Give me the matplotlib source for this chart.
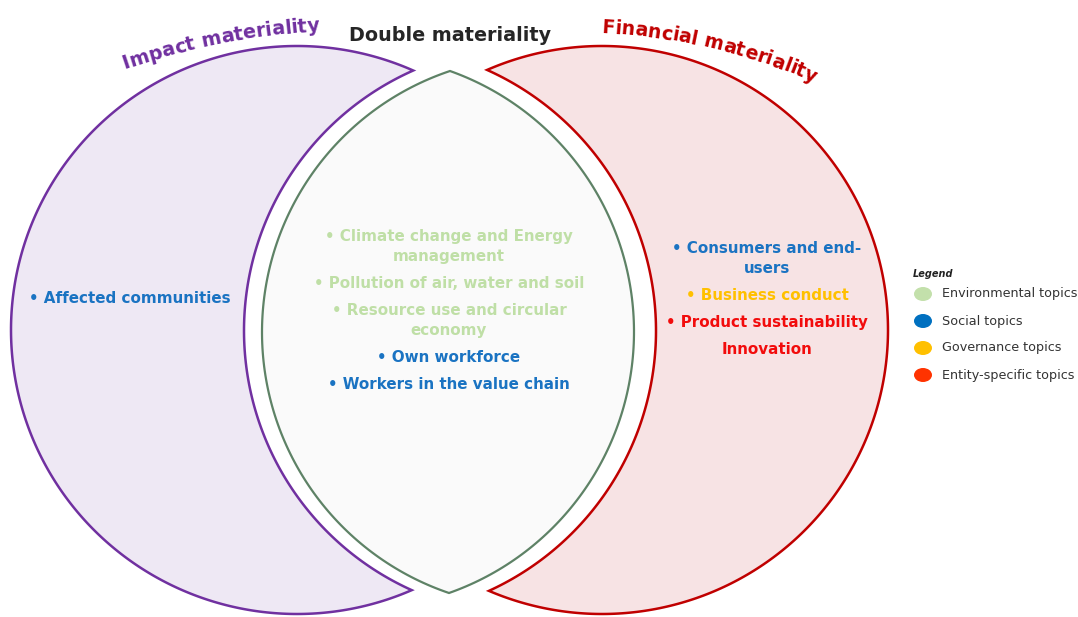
import numpy as np
import matplotlib
matplotlib.use("Agg")
import matplotlib.pyplot as plt
from matplotlib.patches import Polygon, Ellipse
from matplotlib.font_manager import FontProperties, findfont, get_font

# titles of the three areas
title_impact = "Impact materiality"
title_double = "Double materiality"
title_financial = "Financial materiality"

# topics listed in each area and their kind
impact_topics = ["Affected communities"]
impact_kinds = ["social"]
double_topics = ["Climate change and Energy\nmanagement", "Pollution of air, water and soil",
                 "Resource use and circular\neconomy", "Own workforce", "Workers in the value chain"]
double_kinds = ["env", "env", "env", "social", "social"]
financial_topics = ["Consumers and end-\nusers", "Business conduct", "Product sustainability", "Innovation"]
financial_kinds = ["social", "governance", "entity", "entity"]
financial_bullets = [True, True, True, False]

legend_title = "Legend"
legend_labels = ["Environmental topics", "Social topics", "Governance topics", "Entity-specific topics"]
legend_kinds = ["env", "social", "governance", "entity"]

text_colors = {"env": "#bfdfa6", "social": "#1a73c2", "governance": "#ffc000", "entity": "#f20c0c"}
dot_colors = {"env": "#c3e0ab", "social": "#0070c0", "governance": "#ffc000", "entity": "#ff3300"}

W, H = 1078, 617
fig = plt.figure(figsize=(W / 100, H / 100), dpi=100)
ax = fig.add_axes([0, 0, 1, 1])
ax.set_xlim(0, W)
ax.set_ylim(H, 0)
ax.axis("off")


def sweep(a1, a2, a3, n):
    # angles from a1 to a3, going the way that passes a2
    tau = 2 * np.pi
    if (a2 - a1) % tau < (a3 - a1) % tau:
        return a1 + np.linspace(0, (a3 - a1) % tau, n)
    return a1 - np.linspace(0, (a1 - a3) % tau, n)


def arc3(p1, p2, p3, n=150):
    # circle through three points, sampled from p1 to p3 via p2
    (x1, y1), (x2, y2), (x3, y3) = p1, p2, p3
    d = 2 * (x1 * (y2 - y3) + x2 * (y3 - y1) + x3 * (y1 - y2))
    s1, s2, s3 = x1**2 + y1**2, x2**2 + y2**2, x3**2 + y3**2
    ux = (s1 * (y2 - y3) + s2 * (y3 - y1) + s3 * (y1 - y2)) / d
    uy = (s1 * (x3 - x2) + s2 * (x1 - x3) + s3 * (x2 - x1)) / d
    r = np.hypot(x1 - ux, y1 - uy)
    t = sweep(np.arctan2(y1 - uy, x1 - ux), np.arctan2(y2 - uy, x2 - ux),
              np.arctan2(y3 - uy, x3 - ux), n)
    return np.column_stack([ux + r * np.cos(t), uy + r * np.sin(t)])


def crescent(cx, cy, a, b, tip_top, tip_bot, via, inner_mid, face, edge):
    t1 = np.arctan2((tip_top[1] - cy) / b, (tip_top[0] - cx) / a)
    t3 = np.arctan2((tip_bot[1] - cy) / b, (tip_bot[0] - cx) / a)
    t = sweep(t1, via, t3, 300)
    outer = np.column_stack([cx + a * np.cos(t), cy + b * np.sin(t)])
    inner = arc3(tuple(outer[-1]), inner_mid, tuple(outer[0]))
    ax.add_patch(Polygon(np.vstack([outer, inner[1:-1]]), closed=True,
                         facecolor=face, edgecolor=edge, lw=1.8, joinstyle="miter"))


# left crescent (impact), lens (double), right crescent (financial)
crescent(297, 330, 286, 284, (413, 71), (413, 593), np.pi, (244, 332), "#eee8f4", "#7030a0")
crescent(602, 330, 286, 284, (488, 72), (488, 593), 0.0, (656, 332), "#f7e3e4", "#c00000")
lens = np.vstack([arc3((450, 71), (262, 332), (449, 593)), arc3((449, 593), (634, 332), (450, 71))[1:-1]])
ax.add_patch(Polygon(lens, closed=True, facecolor="#fafafa", edgecolor="#5e8266", lw=1.6, joinstyle="miter"))


def curved_text(s, cx, cy, r, theta_mid, size, color):
    prop = FontProperties(family="DejaVu Sans", weight="bold", size=size)
    font = get_font(findfont(prop))
    font.set_size(size, 100)
    adv = np.array([font.load_char(ord(ch)).linearHoriAdvance / 65536 for ch in s])
    pos = np.concatenate([[0], np.cumsum(adv)[:-1]]) + adv / 2 - adv.sum() / 2
    theta = np.radians(theta_mid) - pos / r
    for ch, th in zip(s, theta):
        ax.text(cx + r * np.cos(th), cy - r * np.sin(th), ch, rotation=np.degrees(th) - 90,
                rotation_mode="anchor", ha="center", va="baseline", fontproperties=prop, color=color)


curved_text(title_impact, 360, 760, 730, 101.0, 13.8, "#7030a0")
curved_text(title_financial, 570, 644, 612, 76.8, 13.6, "#c00000")
ax.text(450, 41, title_double, ha="center", va="baseline", fontsize=13.8, fontweight="bold", color="#262626")


def topic_block(topics, kinds, x, y0, bullets=None, line=20, step=27, size=10.9):
    y = y0
    for i, (txt, kind) in enumerate(zip(topics, kinds)):
        lines = txt.split("\n")
        if bullets is None or bullets[i]:
            lines[0] = "\u2022 " + lines[0]
        for j, ln in enumerate(lines):
            ax.text(x, y + 5, ln, ha="center", va="baseline", fontsize=size,
                    fontweight="bold", color=text_colors[kind])
            if j < len(lines) - 1:
                y += line
        y += step


topic_block(impact_topics, impact_kinds, 130, 298)
topic_block(double_topics, double_kinds, 449, 236)
topic_block(financial_topics, financial_kinds, 767, 248, financial_bullets)

# legend
ax.text(913, 277, legend_title, fontsize=7, fontstyle="italic", fontweight="bold", color="#222222")
for i, (lab, kind) in enumerate(zip(legend_labels, legend_kinds)):
    yy = 294 + 27 * i
    ax.add_patch(Ellipse((923, yy), 18, 14, facecolor=dot_colors[kind], edgecolor="none"))
    ax.text(942, yy, lab, ha="left", va="center", fontsize=9.2, color="#333333")

fig.savefig("out.png", dpi=100)
